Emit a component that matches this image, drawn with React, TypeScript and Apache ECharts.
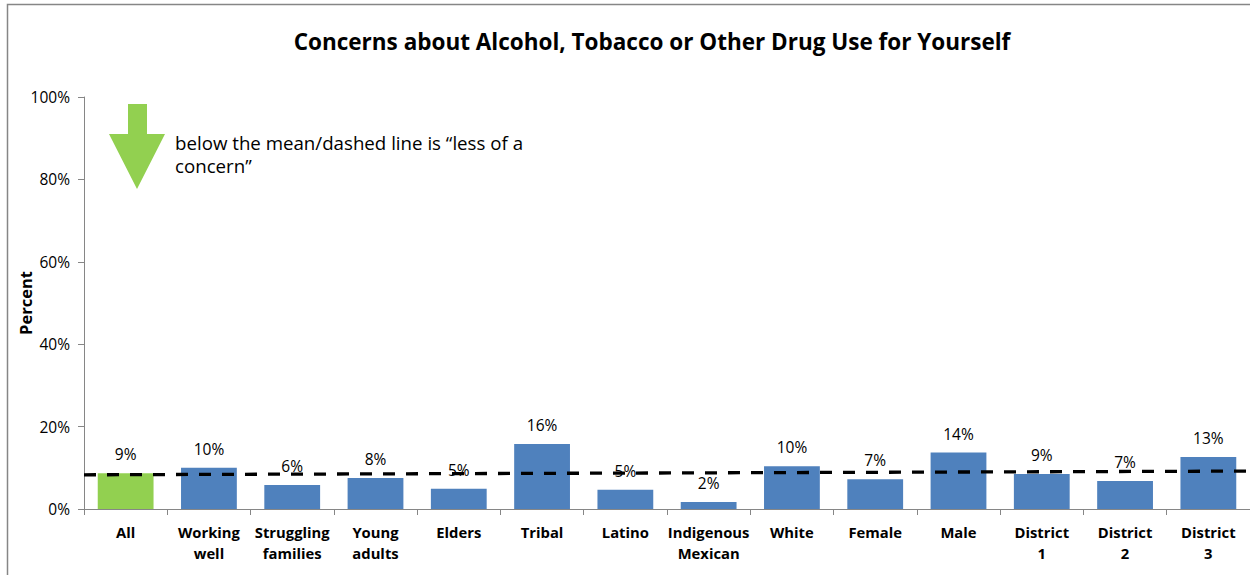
import React, { useEffect, useRef } from "react";
import * as echarts from "echarts";

const categories = [
  "All",
  "Working\nwell",
  "Struggling\nfamilies",
  "Young\nadults",
  "Elders",
  "Tribal",
  "Latino",
  "Indigenous\nMexican",
  "White",
  "Female",
  "Male",
  "District\n1",
  "District\n2",
  "District\n3",
];
const values = [8.7, 10.0, 5.8, 7.5, 4.9, 15.8, 4.7, 1.7, 10.4, 7.2, 13.7, 8.5, 6.8, 12.6];
const valueLabels = ["9%", "10%", "6%", "8%", "5%", "16%", "5%", "2%", "10%", "7%", "14%", "9%", "7%", "13%"];
const highlightIndex = 0;
const meanLineEnds = [8.3, 9.2];
const yTicks = [0, 20, 40, 60, 80, 100];
const yAxisName = "Percent";

const FONT = "'Open Sans', Lato, sans-serif";

export default function App() {
  const ref = useRef<HTMLDivElement>(null);
  useEffect(() => {
    document.body.style.margin = "0";
    const chart = echarts.init(ref.current!, null, { renderer: "svg" });
    chart.setOption({
      animation: false,
      backgroundColor: "#fff",
      textStyle: { fontFamily: FONT },
      title: {
        text: "Concerns about Alcohol, Tobacco or Other Drug Use for Yourself",
        left: 647,
        textAlign: "center",
        top: 25,
        textStyle: { fontFamily: FONT, fontSize: 22.5, fontWeight: "bold", color: "#000" },
      },
      grid: {
        left: 84,
        top: 97,
        right: 0,
        bottom: 66,
        containLabel: false,
        outerBoundsMode: "none",
      },
      xAxis: [
        {
          type: "category",
          data: categories,
          axisLine: { lineStyle: { color: "#868686" } },
          axisTick: { show: true, length: 6, alignWithLabel: false, lineStyle: { color: "#868686" } },
          axisLabel: {
            interval: 0,
            margin: 12,
            fontFamily: FONT,
            fontSize: 14.8,
            fontWeight: "bold",
            color: "#000",
            lineHeight: 21,
          },
        },
        {
          type: "value",
          min: 0,
          max: categories.length,
          show: false,
          position: "bottom",
        },
      ],
      yAxis: {
        type: "value",
        min: yTicks[0],
        max: yTicks[yTicks.length - 1],
        interval: 20,
        axisLine: { show: true, lineStyle: { color: "#868686" } },
        axisTick: { show: true, length: 6, lineStyle: { color: "#868686" } },
        splitLine: { show: false },
        axisLabel: {
          formatter: "{value}%",
          margin: 14,
          fontFamily: FONT,
          fontSize: 15.5,
          color: "#000",
        },
      },
      series: [
        {
          type: "bar",
          xAxisIndex: 0,
          barCategoryGap: "33%",
          data: values.map((v, i) => ({
            value: v,
            itemStyle: { color: i === highlightIndex ? "#92D050" : "#4F81BD" },
          })),
          label: {
            show: true,
            position: "top",
            distance: 11,
            fontFamily: FONT,
            fontSize: 15.5,
            color: "#000",
            formatter: (p: any) => valueLabels[p.dataIndex],
          },
          z: 2,
        },
        {
          type: "line",
          xAxisIndex: 1,
          data: [
            [0, meanLineEnds[0]],
            [categories.length, meanLineEnds[1]],
          ],
          symbol: "none",
          lineStyle: { color: "#000", width: 3.3, type: [12, 11] },
          z: 3,
          silent: true,
        },
      ],
      graphic: [
        {
          type: "rect",
          shape: { x: 7.5, y: 4.5, width: 1400, height: 800 },
          style: { fill: "none", stroke: "#868686", lineWidth: 1.5 },
          silent: true,
        },
        {
          type: "text",
          x: 25,
          y: 303,
          rotation: Math.PI / 2,
          style: {
            text: yAxisName,
            font: `bold 16.5px ${FONT}`,
            fill: "#000",
            align: "center",
            verticalAlign: "middle",
          },
        },
        {
          type: "polygon",
          shape: {
            points: [
              [128, 104],
              [147, 104],
              [147, 134],
              [165, 134],
              [137, 189],
              [109, 134],
              [128, 134],
            ],
          },
          style: { fill: "#92D050" },
        },
        {
          type: "text",
          x: 175,
          y: 131,
          style: {
            text: "below the mean/dashed line is \u201cless of a\nconcern\u201d",
            font: `18.7px ${FONT}`,
            fill: "#000",
            lineHeight: 23,
          },
        },
      ],
    });
    return () => chart.dispose();
  }, []);
  return <div ref={ref} style={{ width: 1250, height: 575 }} />;
}
